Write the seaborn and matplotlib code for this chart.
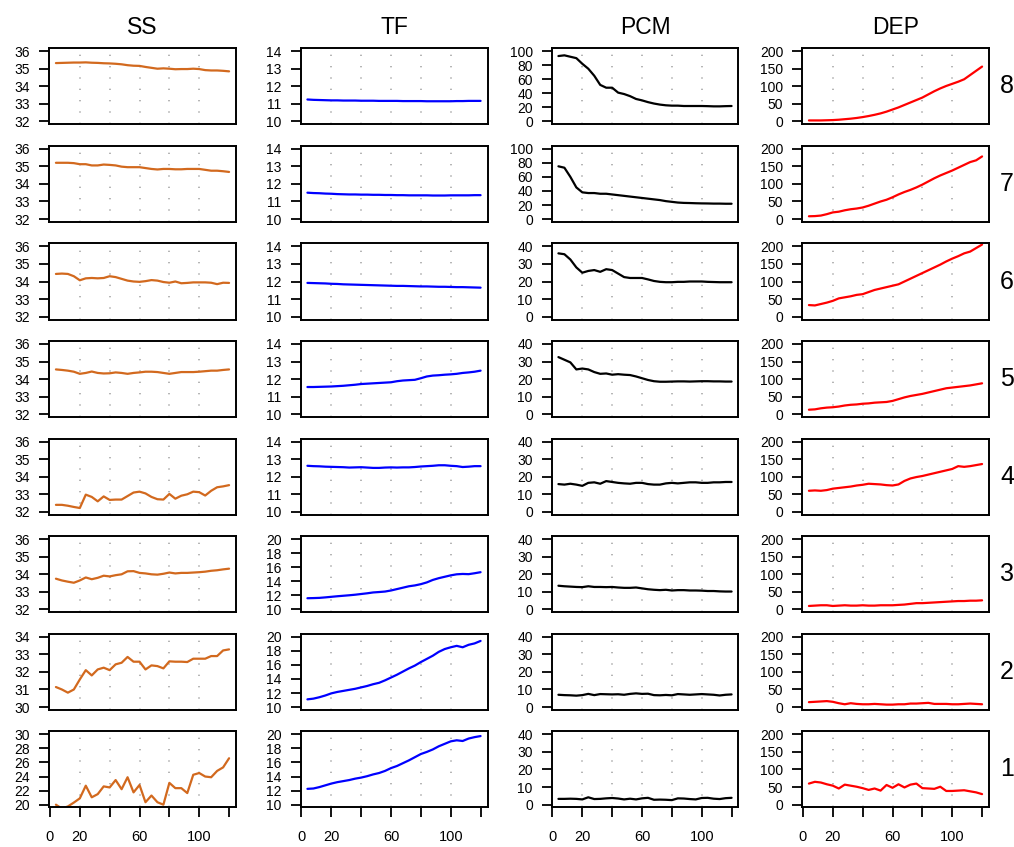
import matplotlib
matplotlib.use("Agg")
import matplotlib.pyplot as plt
import numpy as np
import pandas as pd
import seaborn as sns

# ---------------- data ----------------
step = [4, 8, 12, 16, 20, 24, 28, 32, 36, 40, 44, 48, 52, 56, 60,
        64, 68, 72, 76, 80, 84, 88, 92, 96, 100, 104, 108, 112, 116, 120]

variables = ["SS", "TF", "PCM", "DEP"]
rows = [8, 7, 6, 5, 4, 3, 2, 1]
x_ticks = [0, 20, 40, 60, 80, 100, 120]
x_tick_labels = ["0", "20", "", "60", "", "100", ""]

ss_8 = [35.32, 35.33, 35.34, 35.35, 35.35, 35.36, 35.34, 35.33, 35.31, 35.30, 35.28, 35.25, 35.20, 35.17, 35.16,
        35.10, 35.05, 35.00, 35.02, 35.00, 34.97, 34.98, 34.98, 35.00, 34.98, 34.92, 34.90, 34.90, 34.88, 34.85]
ss_7 = [35.20, 35.20, 35.20, 35.18, 35.12, 35.12, 35.05, 35.05, 35.10, 35.08, 35.05, 34.98, 34.95, 34.95, 34.95,
        34.90, 34.85, 34.82, 34.85, 34.85, 34.83, 34.83, 34.85, 34.85, 34.85, 34.80, 34.75, 34.75, 34.72, 34.68]
ss_6 = [34.43, 34.45, 34.43, 34.30, 34.07, 34.18, 34.20, 34.18, 34.20, 34.30, 34.25, 34.15, 34.05, 34.00, 33.98,
        34.02, 34.08, 34.05, 33.97, 33.93, 34.00, 33.90, 33.92, 33.95, 33.95, 33.95, 33.93, 33.85, 33.93, 33.92]
ss_5 = [34.55, 34.52, 34.48, 34.42, 34.30, 34.35, 34.43, 34.35, 34.32, 34.33, 34.38, 34.35, 34.30, 34.35, 34.38,
        34.42, 34.42, 34.40, 34.35, 34.30, 34.35, 34.40, 34.40, 34.40, 34.42, 34.45, 34.48, 34.48, 34.52, 34.55]
ss_4 = [32.40, 32.40, 32.35, 32.28, 32.22, 32.98, 32.85, 32.60, 32.88, 32.68, 32.70, 32.70, 32.90, 33.10, 33.15,
        33.05, 32.85, 32.72, 32.70, 33.02, 32.75, 32.92, 33.00, 33.15, 33.12, 32.93, 33.20, 33.40, 33.45, 33.52]
ss_3 = [33.75, 33.65, 33.58, 33.52, 33.65, 33.82, 33.72, 33.80, 33.92, 33.88, 33.95, 34.00, 34.17, 34.18, 34.08,
        34.05, 34.00, 33.98, 34.03, 34.10, 34.05, 34.08, 34.08, 34.10, 34.12, 34.15, 34.20, 34.23, 34.28, 34.32]
ss_2 = [31.14, 31.00, 30.82, 31.00, 31.57, 32.10, 31.80, 32.14, 32.24, 32.10, 32.43, 32.52, 32.85, 32.58, 32.58,
        32.14, 32.37, 32.33, 32.20, 32.60, 32.58, 32.58, 32.56, 32.75, 32.75, 32.75, 32.90, 32.90, 33.22, 33.28]
ss_1 = [20.00, 19.45, 19.75, 20.30, 20.90, 22.70, 21.05, 21.50, 22.60, 22.45, 23.50, 22.20, 23.90, 21.75, 22.80,
        20.35, 21.30, 20.35, 20.00, 23.10, 22.35, 22.35, 21.65, 24.25, 24.50, 24.00, 23.90, 24.80, 25.30, 26.60]

tf_8 = [11.25, 11.23, 11.22, 11.21, 11.20, 11.20, 11.19, 11.19, 11.19, 11.18, 11.18, 11.18, 11.17, 11.17, 11.17,
        11.17, 11.16, 11.16, 11.16, 11.16, 11.15, 11.15, 11.15, 11.15, 11.15, 11.16, 11.16, 11.17, 11.17, 11.17]
tf_7 = [11.50, 11.48, 11.47, 11.45, 11.44, 11.42, 11.41, 11.40, 11.40, 11.39, 11.39, 11.38, 11.38, 11.37, 11.37,
        11.36, 11.36, 11.35, 11.35, 11.35, 11.35, 11.34, 11.34, 11.34, 11.35, 11.35, 11.35, 11.35, 11.36, 11.36]
tf_6 = [11.92, 11.91, 11.90, 11.89, 11.87, 11.86, 11.84, 11.83, 11.82, 11.81, 11.80, 11.79, 11.78, 11.77, 11.76,
        11.75, 11.75, 11.74, 11.73, 11.72, 11.72, 11.71, 11.70, 11.70, 11.69, 11.68, 11.68, 11.67, 11.66, 11.65]
tf_5 = [11.55, 11.55, 11.56, 11.57, 11.58, 11.60, 11.62, 11.65, 11.68, 11.72, 11.74, 11.76, 11.78, 11.80, 11.82,
        11.88, 11.92, 11.94, 11.96, 12.05, 12.15, 12.20, 12.22, 12.25, 12.27, 12.30, 12.35, 12.38, 12.42, 12.48]
tf_4 = [12.62, 12.60, 12.59, 12.57, 12.56, 12.55, 12.54, 12.52, 12.53, 12.54, 12.52, 12.50, 12.50, 12.52, 12.53,
        12.52, 12.53, 12.53, 12.55, 12.58, 12.60, 12.62, 12.65, 12.65, 12.62, 12.60, 12.55, 12.57, 12.60, 12.60]
tf_3 = [11.60, 11.62, 11.65, 11.72, 11.80, 11.88, 11.95, 12.02, 12.10, 12.20, 12.30, 12.42, 12.48, 12.55, 12.70,
        12.90, 13.10, 13.30, 13.42, 13.60, 13.85, 14.20, 14.45, 14.65, 14.85, 15.00, 15.05, 15.02, 15.15, 15.30]
tf_2 = [11.10, 11.20, 11.40, 11.65, 11.95, 12.15, 12.30, 12.45, 12.60, 12.80, 13.00, 13.25, 13.45, 13.80, 14.20,
        14.60, 15.05, 15.50, 15.90, 16.40, 16.85, 17.30, 17.85, 18.25, 18.50, 18.70, 18.50, 18.85, 19.05, 19.40]
tf_1 = [12.25, 12.30, 12.50, 12.75, 13.00, 13.20, 13.35, 13.50, 13.70, 13.85, 14.05, 14.30, 14.50, 14.80, 15.20,
        15.50, 15.90, 16.30, 16.75, 17.20, 17.50, 17.85, 18.30, 18.65, 19.00, 19.15, 19.05, 19.40, 19.60, 19.75]

pcm_8 = [93, 94, 92, 90, 82, 75, 65, 52, 48, 48, 41, 39, 36, 32, 30,
         27.5, 25.5, 24, 23, 22.5, 22.5, 22, 22, 22, 22, 21.8, 21.5, 21.5, 21.8, 22]
pcm_7 = [75, 73, 60, 45, 38, 37, 37, 36, 36, 35, 34, 33, 32, 31, 30,
         29, 28, 27, 25.5, 24.5, 23.5, 23, 22.8, 22.5, 22.3, 22.2, 22, 22, 21.8, 21.8]
pcm_6 = [36, 35.5, 32.5, 28, 25, 26, 26.5, 25.5, 27, 26.5, 24.5, 22.5, 22, 22, 22,
         21.2, 20.3, 19.8, 19.6, 19.6, 19.8, 19.8, 20, 20, 20, 19.8, 19.7, 19.6, 19.6, 19.6]
pcm_5 = [32.5, 31, 29.5, 25.5, 26, 25.5, 24, 23, 23.2, 22.5, 22.8, 22.5, 22.3, 21.5, 20.5,
         19.5, 18.8, 18.5, 18.5, 18.6, 18.7, 18.7, 18.6, 18.7, 18.8, 18.8, 18.7, 18.7, 18.6, 18.6]
pcm_4 = [15.8, 15.5, 16, 15.5, 14.8, 16.5, 16.8, 16, 17.5, 17, 16.5, 16.2, 16, 16.5, 16.5,
         15.8, 15.5, 15.5, 16.2, 16.5, 16.2, 16.5, 16.8, 16.8, 16.5, 16.5, 16.8, 16.8, 17, 17]
pcm_3 = [13.5, 13.2, 13, 12.8, 12.7, 13.2, 12.8, 12.8, 12.7, 12.8, 12.5, 12.3, 12.3, 12.5, 12,
         11.5, 11.2, 11, 11.2, 10.8, 11, 11, 10.8, 10.8, 10.7, 10.5, 10.5, 10.3, 10.2, 10.2]
pcm_2 = [7, 6.8, 6.7, 6.5, 6.8, 7.5, 6.8, 7.4, 7.3, 7.2, 7.3, 7, 7.5, 7.8, 7.5,
         7.6, 6.8, 6.7, 6.9, 6.7, 7.4, 7.2, 7, 7.2, 7.4, 7.2, 7, 6.6, 7, 7.2]
pcm_1 = [3.3, 3.3, 3.4, 3.3, 3.0, 4.2, 3.2, 3.3, 3.6, 3.8, 3.5, 3.0, 3.4, 3.0, 3.6,
         3.9, 2.8, 2.9, 2.8, 2.6, 3.6, 3.5, 3.2, 3.0, 3.8, 3.9, 3.4, 3.2, 3.7, 3.9]

dep_8 = [3, 3, 3, 3.5, 4, 5, 6.5, 8, 10, 12.5, 15.5, 19, 23, 28, 34,
         40, 47, 54, 61, 68, 77, 86, 94, 101, 107, 113, 120, 132, 144, 156]
dep_7 = [8, 8.5, 10, 14, 19, 21, 25, 28, 30, 33, 38, 44, 50, 55, 62,
         70, 77, 83, 90, 98, 107, 116, 124, 131, 138, 146, 154, 162, 167, 178]
dep_6 = [33, 32, 36, 40, 45, 52, 55, 58, 62, 64, 70, 76, 80, 84, 88,
         92, 100, 108, 116, 124, 132, 140, 148, 157, 165, 172, 180, 185, 195, 205]
dep_5 = [13, 14, 17, 19, 20, 22, 25, 27, 28, 30, 31, 33, 34, 35, 38,
         43, 48, 52, 55, 58, 62, 66, 70, 74, 76, 78, 80, 82, 85, 88]
dep_4 = [60, 61, 60, 62, 66, 68, 70, 72, 75, 77, 80, 79, 78, 76, 75,
         78, 88, 95, 99, 102, 106, 110, 114, 118, 122, 130, 128, 130, 133, 136]
dep_3 = [10, 11, 12, 12, 10, 11, 12, 11, 11, 12, 11, 11, 12, 12, 12,
         13, 14, 16, 18, 18, 19, 20, 21, 22, 23, 24, 24, 25, 25, 26]
dep_2 = [14, 15, 16, 17, 15, 11, 8, 11, 9, 8, 8, 9, 8, 7, 7,
         8, 8, 10, 10, 11, 12, 9, 9, 9, 8, 8, 9, 10, 9, 8]
dep_1 = [60, 65, 63, 58, 54, 46, 57, 54, 51, 47, 42, 46, 40, 56, 48,
         58, 49, 57, 60, 47, 46, 45, 51, 39, 39, 40, 41, 38, 35, 30]

series = {
    "SS": [ss_8, ss_7, ss_6, ss_5, ss_4, ss_3, ss_2, ss_1],
    "TF": [tf_8, tf_7, tf_6, tf_5, tf_4, tf_3, tf_2, tf_1],
    "PCM": [pcm_8, pcm_7, pcm_6, pcm_5, pcm_4, pcm_3, pcm_2, pcm_1],
    "DEP": [dep_8, dep_7, dep_6, dep_5, dep_4, dep_3, dep_2, dep_1],
}

# y-axis tick sets per panel (top row first)
ss_ticks = [[32, 33, 34, 35, 36]] * 6 + [[30, 31, 32, 33, 34], [20, 22, 24, 26, 28, 30]]
tf_ticks = [[10, 11, 12, 13, 14]] * 5 + [[10, 12, 14, 16, 18, 20]] * 3
pcm_ticks = [[0, 20, 40, 60, 80, 100]] * 2 + [[0, 10, 20, 30, 40]] * 6
dep_ticks = [[0, 50, 100, 150, 200]] * 8
y_ticks = {"SS": ss_ticks, "TF": tf_ticks, "PCM": pcm_ticks, "DEP": dep_ticks}

colors = {"SS": "#D2691E", "TF": "#0000FF", "PCM": "#000000", "DEP": "#FF0000"}

records = []
for var in variables:
    for r, vals in zip(rows, series[var]):
        for s, v in zip(step, vals):
            records.append({"var": var, "row": r, "step": s, "value": v})
df = pd.DataFrame(records)

# ---------------- style ----------------
sns.set_style("ticks")
plt.rcParams["font.family"] = ["Liberation Sans", "DejaVu Sans"]
plt.rcParams["text.color"] = "black"

W, H = 1014, 847
fig = plt.figure(figsize=(W / 100, H / 100), dpi=100)

col_left = [49, 300.5, 551.5, 802]
panel_w = 187
panel_h = 76
row_top0 = 48.3
row_pitch = 97.6

span = step[-1] - step[0]
xlim = (step[0] - 0.04 * span, step[-1] + 0.04 * span)
grid_x = [20, 40, 60, 80, 100]

for ci, var in enumerate(variables):
    for ri, r in enumerate(rows):
        top = row_top0 + ri * row_pitch
        ax = fig.add_axes([col_left[ci] / W, 1 - (top + panel_h) / H, panel_w / W, panel_h / H])
        sub = df[(df["var"] == var) & (df["row"] == r)]
        for gx in grid_x:
            ax.axvline(gx, color="#a8a8a8", lw=1.2, ls=(0, (0.8, 6.0)), zorder=0)
        sns.lineplot(data=sub, x="step", y="value", ax=ax, color=colors[var],
                     lw=1.6, legend=False, errorbar=None)
        yt = y_ticks[var][ri]
        yr = yt[-1] - yt[0]
        ax.set_ylim(yt[0] - 0.04 * yr, yt[-1] + 0.04 * yr)
        ax.set_yticks(yt)
        ax.set_yticklabels([str(t) for t in yt])
        ax.set_xlim(*xlim)
        ax.set_xlabel("")
        ax.set_ylabel("")
        for sp in ax.spines.values():
            sp.set_visible(True)
            sp.set_linewidth(1.4)
            sp.set_color("black")
        ax.tick_params(axis="y", direction="out", length=7, width=1.3, pad=6.5,
                       labelsize=10, colors="black")
        if ri == len(rows) - 1:
            ax.set_xticks(x_ticks)
            ax.set_xticklabels(x_tick_labels)
            ax.tick_params(axis="x", direction="out", length=7.5, width=1.3, pad=9,
                           labelsize=10.5, colors="black")
        else:
            ax.set_xticks(x_ticks)
            ax.tick_params(axis="x", length=0, labelbottom=False)
        if ri == 0:
            ax.set_title(var, fontsize=16.5, pad=10, color="black")
        if ci == len(variables) - 1:
            ax.text(1.0 + 18 / panel_w, 0.5, str(r), transform=ax.transAxes,
                    fontsize=18, ha="center", va="center", color="black")

fig.savefig("out.png", dpi=100)
